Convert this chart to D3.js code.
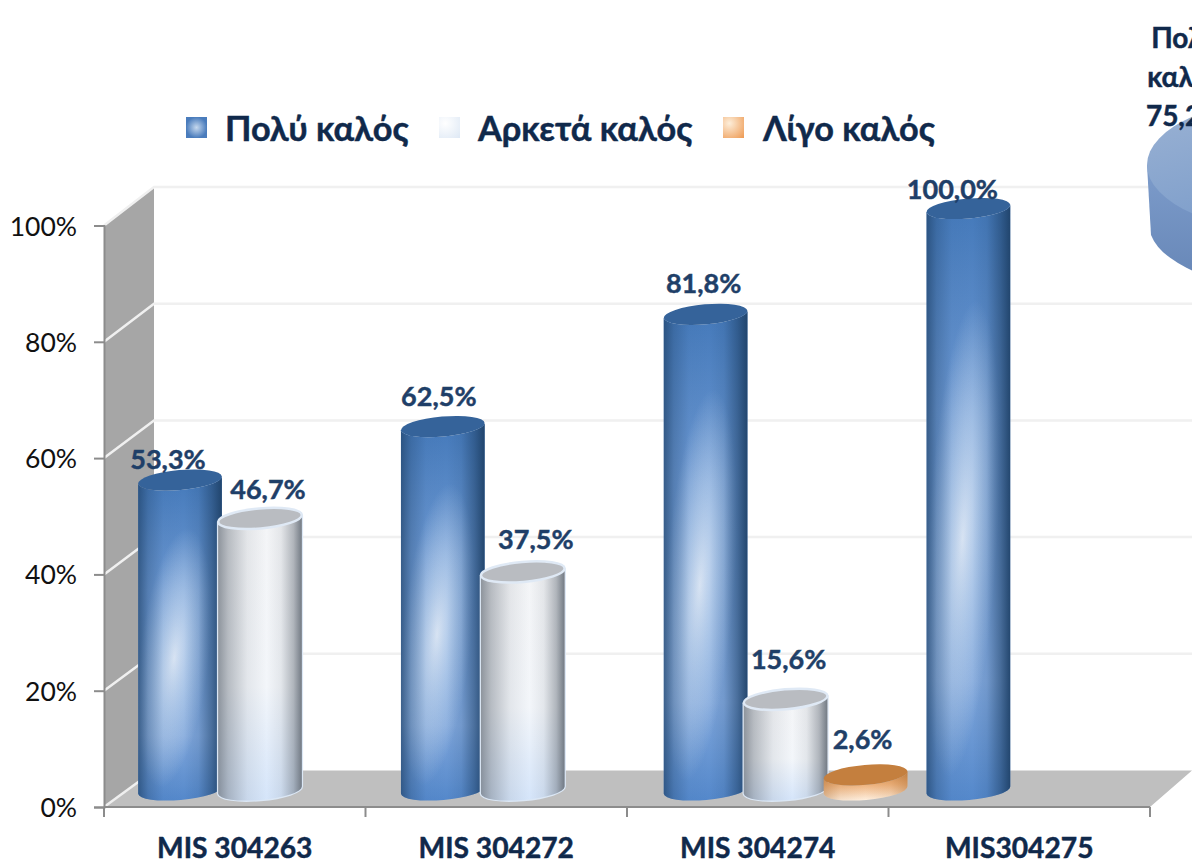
<!DOCTYPE html>
<html><head><meta charset="utf-8">
<script src="https://cdn.jsdelivr.net/npm/d3@7"></script>
<style>html,body{margin:0;padding:0;background:#fff;overflow:hidden}svg{display:block}text{font-family:Lato,"Open Sans",sans-serif}</style>
</head><body><svg id="c" width="1192" height="860"></svg>
<script>
const categories = ["MIS 304263","MIS 304272","MIS 304274","MIS304275"];
const seriesNames = ["Πολύ καλός","Αρκετά καλός","Λίγο καλός"];
const veryGood = [53.3,62.5,81.8,100.0];
const quiteGood = [46.7,37.5,15.6,null];
const littleGood = [null,null,2.6,null];
const yTicks = [0,20,40,60,80,100];
const pieLabel = ["Πολύ","καλός","75,2%"];
const labelNudgeX = [[-12,-4,-2,-16],[8,13,3,0],[0,0,-3,0]];
const labelNudgeY = [[11,21,21,10],[19,23,30,0],[0,0,26,0]];

const W=1192,H=860,x0=104,x1=1150,yBase=807,yTop=225.5,depthX=50;
const svg=d3.select("#c");
const defs=svg.append("defs");
const y=d3.scaleLinear().domain([0,100]).range([yBase,yTop]);
const yBack=d3.scaleLinear().domain([0,100]).range([770.5,187]);
const x=d3.scaleBand().domain(categories).range([x0,x1]);
const xBars=d3.scaleBand().domain(categories).range([x0,x0+4*262.8]);
const slot=d3.scaleBand().domain([0,1,2]).range([36,36+240]);

const pal=[
 {top:"#35639a",v:[[0,"#4479ba"],[.35,"#6c98d2"],[.8,"#7ea5da"],[1,"#5488cb"]],h:"#1f4269",
  ha:[[0,.7],[.12,.3],[.3,.03],[.55,0],[.72,.12],[.88,.55],[1,.95]]},
 {top:"#b9bcc1",v:[[0,"#f4f5f7"],[.6,"#f3f6fa"],[1,"#d5e5fa"]],h:"#6c747e",
  ha:[[0,.75],[.12,.45],[.35,.12],[.58,0],[.75,.12],[.9,.5],[1,.95]]},
 {top:"#c47f3e",v:[[0,"#d28a48"],[.45,"#eeb27c"],[1,"#fff1e2"]],h:"#a86a30",
  ha:[[0,.4],[.2,.1],[.5,0],[.8,.1],[1,.4]]}
];
pal.forEach((p,i)=>{
 const v=defs.append("linearGradient").attr("id","v"+i).attr("x1",0).attr("y1",0).attr("x2",0).attr("y2",1);
 p.v.forEach(s=>v.append("stop").attr("offset",s[0]).attr("stop-color",s[1]));
 const h=defs.append("linearGradient").attr("id","h"+i);
 p.ha.forEach(s=>h.append("stop").attr("offset",s[0]).attr("stop-color",p.h).attr("stop-opacity",s[1]));
});
const r=defs.append("radialGradient").attr("id","r0").attr("cx",0).attr("cy",0).attr("r",1)
 .attr("gradientTransform","translate(.43,.56) skewX(-22) scale(.42,.4)");
r.append("stop").attr("offset",0).attr("stop-color","#dfe9f6").attr("stop-opacity",.95);
r.append("stop").attr("offset",.45).attr("stop-color","#bdd3ee").attr("stop-opacity",.7);
r.append("stop").attr("offset",1).attr("stop-color","#bdd3ee").attr("stop-opacity",0);
const sw=[["#4a7cbc","#c5d8ee"],["#dfe9f5","#ffffff"],["#ee9c56","#fdeeda"]];
sw.forEach((c,i)=>{
 const g=defs.append("radialGradient").attr("id","sw"+i);
 if(i>0){g.attr("cx",.3).attr("cy",.3).attr("r",.95);}
 g.append("stop").attr("offset",0).attr("stop-color",c[1]);
 g.append("stop").attr("offset",1).attr("stop-color",c[0]);
});
const pg=defs.append("linearGradient").attr("id","pieTop").attr("x1",0).attr("y1",0).attr("x2",.6).attr("y2",1);
pg.append("stop").attr("offset",0).attr("stop-color","#9cb3d4");pg.append("stop").attr("offset",1).attr("stop-color","#7598c8");
const pg2=defs.append("linearGradient").attr("id","pieSide").attr("x1",0).attr("y1",0).attr("x2",0).attr("y2",1);
pg2.append("stop").attr("offset",0).attr("stop-color","#7d9ccb");pg2.append("stop").attr("offset",1).attr("stop-color","#6585b5");

// walls and floor
const poly=(pts,fill)=>svg.append("path").attr("d",d3.line()(pts)+"Z").attr("fill",fill);
poly([[x0,yBase],[x0,y(100)],[x0+depthX,yBack(100)],[x0+depthX,yBack(0)]],"#a6a6a6");
poly([[x0,yBase],[x0+depthX,yBack(0)],[W+5,yBack(0)],[x1+42,yBack(0)+0],[x1,yBase]],"#bfbfbf");
yTicks.forEach(t=>{
 const g=svg.append("path").attr("fill","none").attr("stroke-width",2.5);
 if(t===0){ g.attr("d",d3.line()([[x0,y(t)],[x0+depthX,yBack(t)]])).attr("stroke","#efefef"); }
 else { g.attr("d",d3.line()([[x0,y(t)],[x0+depthX,yBack(t)],[W+5,yBack(t)]])).attr("stroke","#f0f0f0"); }
});
// axes
const bold=s=>s.attr("font-weight",700).attr("stroke","currentColor").attr("stroke-width",.45);
const yAxis=d3.axisLeft(y).tickValues(yTicks).tickSize(10).tickFormat(d=>d+"%");
const ya=svg.append("g").attr("transform",`translate(${x0},0)`).call(yAxis);
ya.selectAll("text").attr("font-size",26.5).attr("fill","#111").attr("x",-27).attr("dy",".36em");
ya.selectAll("line,path").attr("stroke","#8c8c8c").attr("stroke-width",2);
const xAxis=d3.axisBottom(x).tickSize(0);
const xa=svg.append("g").attr("transform",`translate(0,${yBase})`).call(xAxis);
xa.select("path").attr("stroke","#8c8c8c").attr("stroke-width",2).attr("d",`M${x0},0H${x1}`);
xa.selectAll("text").attr("font-size",28.2).attr("fill","#10294b").style("color","#10294b").attr("y",51).attr("dy",0).call(bold);
x.domain().concat(["end"]).forEach((c,i)=>{
 const xx=i<categories.length?x(c):x1;
 xa.append("line").attr("x1",xx).attr("x2",xx).attr("y1",0).attr("y2",10).attr("stroke","#8c8c8c").attr("stroke-width",2);
});

// bars
const rx=42,ry=10,lift=17,tilt=5*Math.PI/180;
const ex=rx*Math.cos(tilt),ey=rx*Math.sin(tilt);
const series=[veryGood,quiteGood,littleGood];
const barG=svg.append("g");
const labelG=svg.append("g");
series.forEach((vals,si)=>{
 vals.forEach((v,ci)=>{
  if(v==null) return;
  const cx=xBars(categories[ci])+slot(si)+slot.bandwidth()/2;
  const top=y(v)-lift, bot=y(0)-lift;
  const d=`M${cx-ex},${top+ey}L${cx-ex},${bot+ey}A${rx},${ry} -5 0 0 ${cx+ex},${bot-ey}L${cx+ex},${top-ey}A${rx},${ry} -5 0 1 ${cx-ex},${top+ey}Z`;
  const g=barG.append("g");
  if(si===1) g.append("path").attr("d",d).attr("fill","none").attr("stroke","#dbe7f5").attr("stroke-width",2.5);
  g.append("path").attr("d",d).attr("fill",`url(#v${si})`);
  if(si===0) g.append("path").attr("d",d).attr("fill","url(#r0)");
  g.append("path").attr("d",d).attr("fill",`url(#h${si})`);
  g.append("ellipse").attr("cx",0).attr("cy",0).attr("rx",rx).attr("ry",ry)
   .attr("transform",`translate(${cx},${top}) rotate(-5)`).attr("fill",pal[si].top)
   .attr("stroke",si===1?"#dfe9f5":"none").attr("stroke-width",si===1?2.5:0);
  labelG.append("text").attr("x",cx+labelNudgeX[si][ci]).attr("y",top-labelNudgeY[si][ci])
   .attr("text-anchor","middle").attr("font-size",27).attr("fill","#1f3f68").style("color","#1f3f68").call(bold)
   .text(v.toFixed(1).replace(".",",")+"%");
 });
});

// legend
const legendX=[186,439,723], legendTextX=[225,478,763];
const lg=svg.append("g");
seriesNames.forEach((n,i)=>{
 lg.append("rect").attr("x",legendX[i]).attr("y",117).attr("width",21).attr("height",21).attr("fill",`url(#sw${i})`);
 lg.append("text").attr("x",legendTextX[i]).attr("y",141).attr("font-size",34.3).attr("fill","#10294b").style("color","#10294b").call(bold).text(n);
});

// cropped neighbouring pie
const pieCx=1310,pieCy=165,pieRx=163,pieRy=70,pieDepth=70;
const pie=svg.append("g");
pie.append("path").attr("d",`M${pieCx-pieRx},${pieCy}L${pieCx-pieRx+4},${pieCy+pieDepth}A${pieRx},68 0 0 0 ${pieCx+pieRx},${pieCy+pieDepth}L${pieCx+pieRx},${pieCy}Z`).attr("fill","url(#pieSide)");
pie.append("ellipse").attr("cx",pieCx).attr("cy",pieCy).attr("rx",pieRx).attr("ry",pieRy).attr("fill","url(#pieTop)");
const pl=svg.append("g");
pieLabel.forEach((t,i)=>pl.append("text").attr("x",1185).attr("y",48+i*39).attr("text-anchor","middle").attr("font-size",28).attr("fill","#10294b").style("color","#10294b").call(bold).text(t));
</script></body></html>
